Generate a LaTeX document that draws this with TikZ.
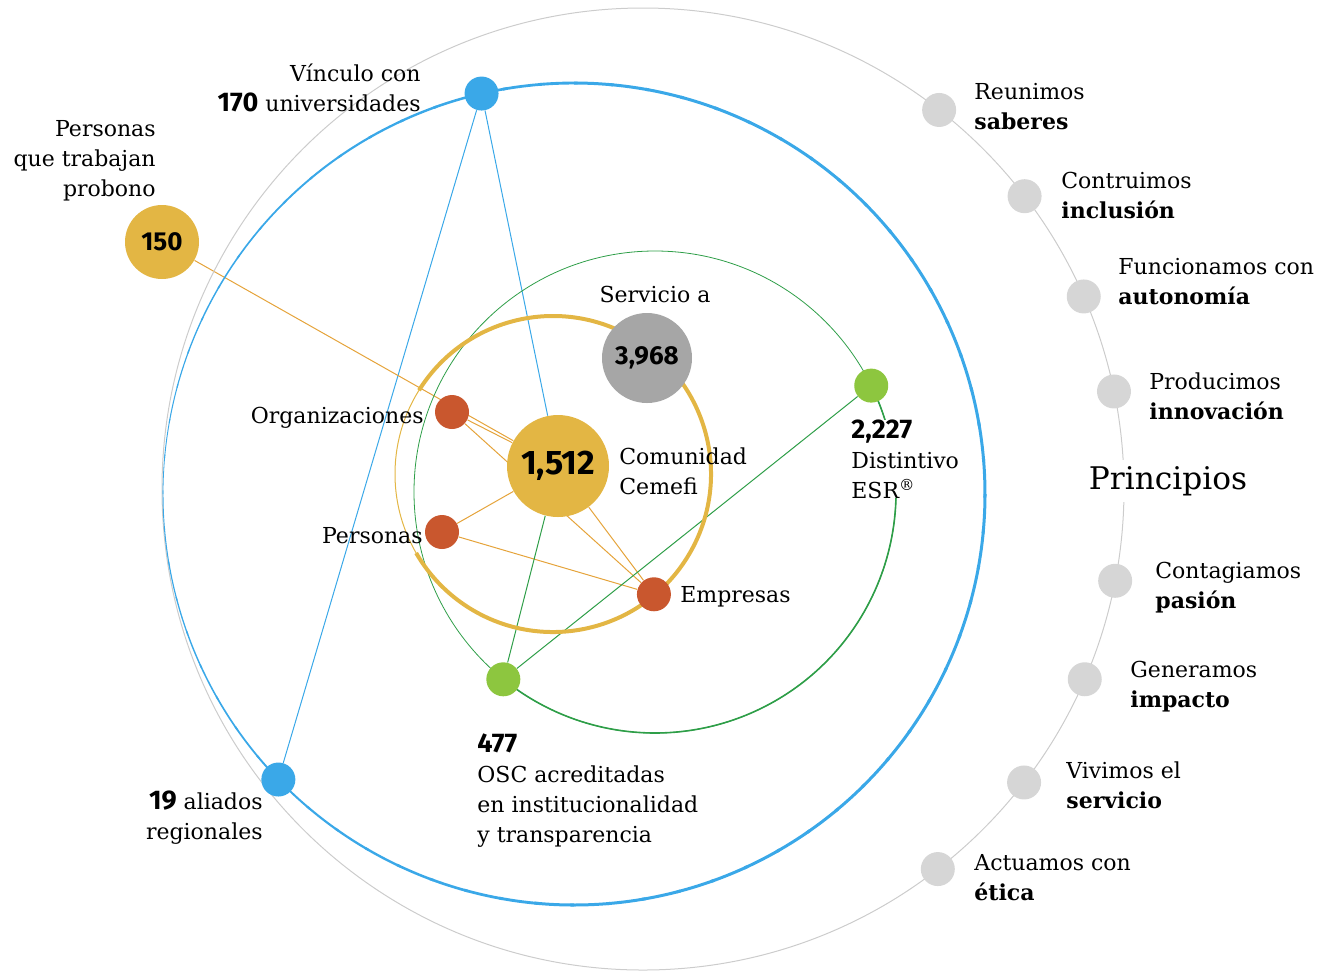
\documentclass[tikz,border=0pt]{standalone}
\usepackage{fontspec}
\setmainfont{DejaVu Serif}
\newfontfamily\numfont{Fira Sans}
\usetikzlibrary{positioning,backgrounds}

\definecolor{cblue}{HTML}{3AA8E8}
\definecolor{cyellow}{HTML}{E3B644}
\definecolor{corange}{HTML}{E5A33A}
\definecolor{cred}{HTML}{C9572E}
\definecolor{clime}{HTML}{8DC63F}
\definecolor{cgreen}{HTML}{2E9E48}
\definecolor{cgray}{HTML}{A6A6A6}
\definecolor{clight}{HTML}{D6D6D6}
\definecolor{cring}{HTML}{CCCCCC}

\tikzset{
  dot/.style={circle,inner sep=0pt,minimum size=17pt},
  txt/.style={inner sep=0pt,font=\fontsize{11}{15}\selectfont},
  num/.style={font=\numfont\bfseries\fontsize{13}{15}\selectfont},
  link/.style={line width=0.5pt}
}
\newcommand{\nb}[1]{{\numfont\bfseries\fontsize{13.5}{15}\selectfont #1}}

\begin{document}
\begin{tikzpicture}[x=0.5pt,y=-0.5pt]
    \useasboundingbox (0,0) rectangle (1338,971);
    \coordinate (gc) at (643,489); % principles ring
    \coordinate (bc) at (574,494); % blue ring
    \coordinate (ec) at (655,492); % green ring
    \coordinate (yc) at (553,474); % yellow ring

    \draw [cring,line width=0.5pt] (gc) circle (481); % outer gray
    \foreach \a in {0,5,...,355}{
      \pgfmathsetmacro\w{0.4+1.1*min(1,abs(\a-180)/90)}
      \draw [cblue,line width=\w pt] ([shift={(\a:411)}]bc) arc[start angle=\a,end angle=\a+5.5,radius=411];
    } % blue, thin on the left
    \draw [cgreen,line width=0.4pt] (ec) circle (241); % green
    \draw [cgreen,line width=0.8pt] ([shift={(-26.2:241)}]ec) arc[start angle=-26.2,end angle=129,radius=241];
    \draw [cyellow,line width=0.5pt] (yc) circle (158); % yellow
    \draw [cyellow,line width=2pt] ([shift={(-148:158)}]yc) arc[start angle=-148,end angle=150,radius=158];

    % dots
    \node [dot,fill=cblue] (vin) at ([shift={(-103:411)}]bc) {};
    \node [dot,fill=cblue] (ali) at ([shift={(136:411)}]bc) {};
    \node [dot,fill=clime] (esr) at ([shift={(-26.2:241)}]ec) {};
    \node [dot,fill=clime] (osc) at ([shift={(129:241)}]ec) {};
    \node [dot,fill=cred] (org) at (452,412) {};
    \node [dot,fill=cred] (per) at (442,532) {};
    \node [dot,fill=cred] (emp) at ([shift={(50:157)}]yc) {};
    \node [dot,num,fill=cyellow,minimum size=37pt] (pro) at (162,242) {150};
    \node [dot,num,fill=cgray,minimum size=45pt] (srv) at (647,358) {3,968};
    \node [dot,num,fill=cyellow,minimum size=51pt,font=\numfont\bfseries\fontsize{17}{17}\selectfont] (cem) at (558,466) {1,512};

    \begin{scope}[on background layer]
    \draw [cblue,link] (vin) -- (ali); \draw [cblue,link] (vin) -- (cem);
    \draw [corange,link] (pro) -- (cem); \draw [corange,link] (org) -- (cem);
    \draw [corange,link] (org) -- (emp); \draw [corange,link] (per) -- (cem);
    \draw [corange,link] (per) -- (emp); \draw [corange,link] (cem) -- (emp);
    \draw [cgreen,link] (esr) -- (osc); \draw [cgreen,link] (cem) -- (osc);
    \end{scope}

    % labels
    \node [txt,anchor=east,align=right] (lvin) at (421,88) {Vínculo con\\\nb{170} universidades};
    \node [txt,anchor=east,align=right] (lpro) at (156,161) {Personas\\que trabajan\\probono};
    \node [txt,anchor=base] (lsrv) at (655,302) {Servicio a};
    \node [txt,anchor=west,align=left] (lcem) at (619,471) {Comunidad\\Cemefi};
    \node [txt,anchor=base east] (lorg) at (424,423) {Organizaciones};
    \node [txt,anchor=base east] (lper) at (423,543) {Personas};
    \node [txt,anchor=base west] (lemp) at (680,602) {Empresas};
    \node [txt,anchor=west,align=left,fill=white] (lesr) at (851,459) {\nb{2,227}\\Distintivo\\ESR\textsuperscript{®}};
    \node [txt,anchor=west,align=left] (losc) at (477,791) {\nb{477}\\OSC acreditadas\\en institucionalidad\\y transparencia};
    \node [txt,anchor=east,align=right] (lali) at (263,818) {\nb{19} aliados\\regionales};

    % principles
    \node [txt,fill=white,inner sep=3pt,font=\fontsize{15.6}{17}\selectfont] (prin) at (1168,481) {Principios};
    \foreach \a/\x/\y/\la/\lb [count=\i] in {
      -52/974/107/Reunimos/saberes,
      -37.5/1061/195/Contruimos/inclusión,
      -23.6/1118/282/Funcionamos con/autonomía,
      -11.7/1149/396/Producimos/innovación,
      11/1155/588/Contagiamos/pasión,
      23.3/1130/687/Generamos/impacto,
      37.6/1066/785/Vivimos el/servicio,
      52.2/974/878/Actuamos con/ética}{
      \node [dot,fill=clight] (p\i) at ([shift={(\a:481)}]gc) {};
      \node [txt,anchor=west,align=left] (t\i) at (\x,\y) {\la\\\textbf{\lb}};
    }
\end{tikzpicture}
\end{document}
